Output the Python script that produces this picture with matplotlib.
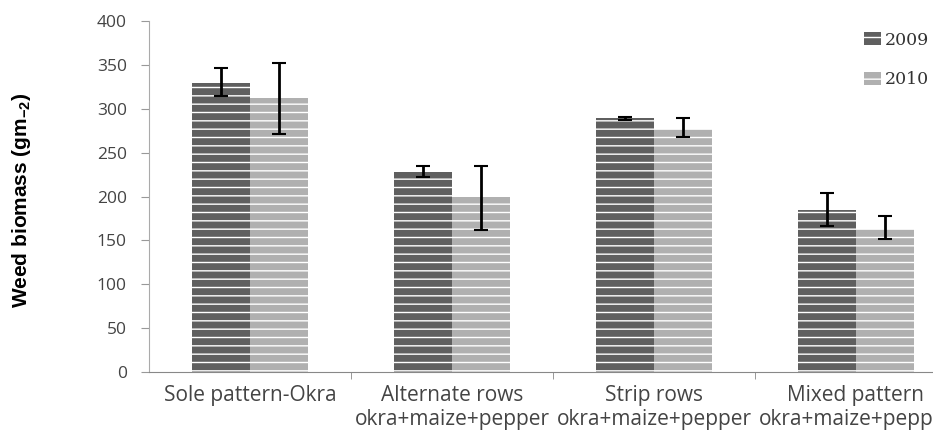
import matplotlib.pyplot as plt
import numpy as np

plt.rcParams['hatch.color'] = 'white'
plt.rcParams['hatch.linewidth'] = 1.0

categories = ['Sole pattern-Okra', 'Alternate rows\nokra+maize+pepper',
              'Strip rows\nokra+maize+pepper', 'Mixed pattern\nokra+maize+pepper']
biomass_2009 = [330, 228, 289, 185]
biomass_2010 = [312, 199, 277, 163]
err_2009_low = [15, 6, 2, 18]
err_2009_high = [16, 7, 2, 19]
err_2010_low = [41, 37, 9, 11]
err_2010_high = [40, 36, 12, 15]

fig = plt.figure(figsize=(9.33, 4.37), dpi=100)
ax = fig.add_axes([0.1597, 0.1487, 0.866, 0.803])

x = np.arange(len(categories))
width = 0.285
ax.bar(x - width / 2, biomass_2009, width, color='#5f5f5f', edgecolor='white',
       linewidth=0, hatch='--', label='2009')
ax.bar(x + width / 2, biomass_2010, width, color='#b0b0b0', edgecolor='white',
       linewidth=0, hatch='--', label='2010')
ax.errorbar(x - width / 2, biomass_2009, yerr=[err_2009_low, err_2009_high],
            fmt='none', ecolor='black', elinewidth=2, capsize=5, capthick=1.5)
ax.errorbar(x + width / 2, biomass_2010, yerr=[err_2010_low, err_2010_high],
            fmt='none', ecolor='black', elinewidth=2, capsize=5, capthick=1.5)

ax.set_xlim(-0.5, 3.5)
ax.set_ylim(0, 400)
ax.set_yticks(range(0, 401, 50))
ax.set_xticks(x)
ax.set_xticklabels(categories, fontsize=15, color='#444444', family='Open Sans',
                   linespacing=1.2)
ax.set_xticks([0.5, 1.5, 2.5], minor=True)
ax.tick_params(axis='x', which='major', length=0, pad=9)
ax.tick_params(axis='x', which='minor', length=5, color='#888888')
ax.tick_params(axis='y', length=6, color='#999999', labelsize=12.5,
               labelcolor='#444444', pad=10)
for t in ax.get_yticklabels():
    t.set_family('Open Sans')

ax.spines['top'].set_visible(False)
ax.spines['right'].set_visible(False)
ax.spines['left'].set_color('#aaaaaa')
ax.spines['bottom'].set_color('#888888')

ax.set_ylabel(r'Weed biomass (gm$_{\mathregular{-2}}$)', fontsize=15,
              fontweight='bold', family='Liberation Sans')
ax.yaxis.set_label_coords(-0.1436, 0.49)

leg = ax.legend(loc='upper left', bbox_to_anchor=(0.885, 0.97), frameon=False,
                borderpad=0, borderaxespad=0,
                handlelength=0.95, handleheight=0.75, handletextpad=0.25,
                labelspacing=1.3, prop={'family': 'DejaVu Serif', 'size': 12.5})
for t in leg.get_texts():
    t.set_color('#333333')

plt.savefig('out.png', dpi=100)
